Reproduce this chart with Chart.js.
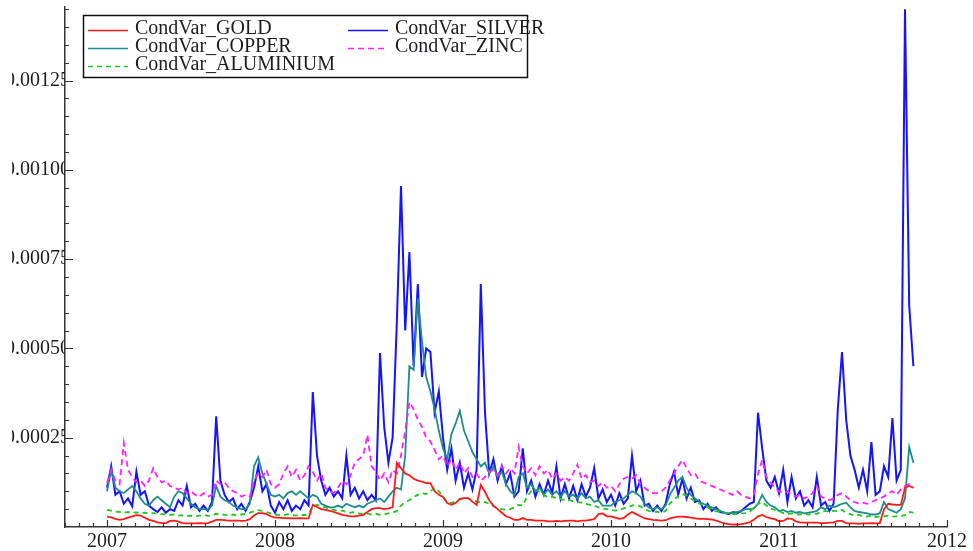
<!DOCTYPE html>
<html>
<head>
<meta charset="utf-8">
<script src="https://cdn.jsdelivr.net/npm/chart.js@4.4.0/dist/chart.umd.min.js"></script>
<style>
html,body{margin:0;padding:0;background:#fff;}
canvas{display:block;}
</style>
</head>
<body>
<canvas id="c" width="973" height="551"></canvas>
<script>
// values are in units of 1e-5 (conditional variance)
const UNIT = 1e-5;
const START_YEAR = 2007;
const STEPS_PER_YEAR = 40;

const seriesLabels = ["CondVar_GOLD", "CondVar_SILVER", "CondVar_COPPER", "CondVar_ZINC", "CondVar_ALUMINIUM"];

const gold = [
2.9,2.7,2.3,2.0,2.2,2.6,3.0,3.3,3.2,2.6,
2.0,1.7,1.3,1.1,1.1,1.7,1.8,1.5,1.1,1.0,
1.0,1.0,1.1,1.0,1.1,1.5,2.0,2.0,1.9,1.8,
1.8,1.8,1.7,1.8,2.2,3.2,3.9,3.9,3.6,3.0,
2.6,2.6,2.5,2.5,2.4,2.4,2.5,2.4,2.4,6.2,
5.6,5.0,4.8,4.5,4.2,3.8,3.4,3.2,3.0,3.0,
3.2,3.4,4.2,5.0,5.3,5.3,5.0,5.2,5.5,18.0,
16.5,15.0,14.5,13.5,13.0,12.7,12.3,12.3,10.0,9.0,
8.4,6.7,6.2,6.7,7.8,8.1,8.1,7.1,6.2,11.8,
9.8,7.5,6.0,5.0,4.0,3.0,2.6,2.0,2.0,2.5,
2.0,2.0,1.8,1.8,1.8,1.6,1.6,1.7,1.6,1.7,
1.8,1.8,1.6,1.8,1.8,2.0,2.2,3.6,3.8,3.0,
3.0,2.6,2.3,2.5,3.5,4.2,3.6,3.0,2.4,2.2,
2.0,1.9,1.8,1.9,2.4,2.7,2.9,2.9,2.8,2.6,
2.4,2.3,2.3,2.2,2.1,1.8,1.4,1.0,0.8,0.7,
0.7,0.8,1.0,1.3,2.0,3.0,3.4,2.8,2.4,2.2,
1.6,1.7,2.4,2.3,1.6,1.3,1.2,1.2,1.2,1.2,
1.1,1.1,1.2,1.3,1.7,1.7,1.1,1.0,1.0,0.9,
1.0,1.0,1.1,1.0,1.1,5.0,6.5,6.3,6.2,6.2,
11.0,11.5,11.0
];

const silver = [
11,17,9,10,6.5,8,5.8,15.5,9,10,
6,5,4.2,5.5,4,5,4.5,7.5,6,11.5,
5.5,6.5,4.5,6,4.5,7,31,13,9,7,
8,5,6.5,4.5,7,11,17,10,12,6,
4,7,5,7.5,4.5,6,5,7.5,6,37.8,
20,13,9,11,8.5,10,8,20,9,11,
8,10,7.5,9,7.5,48.7,28,18,25,57,
95.5,55,77,45,68,42,50,49,32,38,
25,16,22,13,18,11,15,10.5,16,68,
32,15,19,13,17,12,15,8.5,10,22,
10,13,8.5,12,9,13,9.5,17,8,12,
8,11.5,7.5,12,8.5,11,16.5,8,10.5,7,
9,6,9.5,6.5,8,20,10,13,6,6.5,
4.5,6,4.5,6.5,12,15.5,9,13.5,8,11,
7,7.5,5,6.5,4.5,5.5,4.2,4.0,3.6,4.2,
3.8,4.5,5.5,6.5,7,32,22,13,11,14,
9.5,16,7,14,8,10,6,7.5,5.5,14,
6,7,4.5,6.5,33,49,30,20,16,11,
16,10,23.8,9,10,17,14,30.5,13,16,
145,62,45
];

const copper = [
10,16,11,10,9.5,10.5,11.5,10,8,6.5,
6,7.5,8.5,7.5,6.5,5.5,8.5,10,9.5,8,
6.5,5.5,5,5,4.8,6,11.5,8.5,7.5,7,
6,5.5,5,5,6.5,17,19.5,15,12,9,
8.5,9,8,9.5,10,9,10,9,8,9,
8.5,6.5,6,5.5,5.5,6,5.5,6.5,6,5.5,
6,5.5,6.5,7,7.5,8,7,8.5,10,11,
10.5,20,45,44,64,52,42,38,33,27,
22,19,26,29,32.5,27,24,21,19,17,
18,15,17,14,15.5,12,10,9,14,15,
11,12,10,11,9,10.5,9,10,8.5,10,
8.5,9,8,9.5,8,8.5,7,7.5,6,6,
6,7,7.5,8,9,10,9.5,8.5,6.5,5.5,
5,5.5,5,6,9,11,13,14,11,9,
8,7,6.5,6,5.5,5,4.5,4,3.8,4,
4.2,4.5,5,5,5.2,6.5,9,7,6,5.5,
4.5,4.8,4.2,4.5,4,4.2,3.8,4,4.2,4.5,
5.5,5,6,5.5,6,6.5,6.8,5.5,4.5,4.2,
4,3.8,3.5,3.5,3.8,7,5,4.5,4,5,
8,22.4,18
];

const zinc = [
12.3,16,13,12,23.5,16,14,12.5,13,11.5,
13,16.5,14,12.5,13,11.5,11,10.5,11,9.5,
10,9,8.5,9.5,8.5,9,13,12,12.5,11,
10,9.5,8.5,9,8.5,13,15,14,16,12,
11,12,15,17,14,16,13,14.5,17,15.5,
13,15,11,10,9.5,11,13,12,14.5,18,
19,20,25.8,17,15.5,13,15,12.5,16,15,
20,27,35,33,30,28,25,24,21.5,19,
20,17,19,16,18,15,16.5,14,15,13,
14,15.5,16,14.5,17,15,16.5,15,22.4,17,
15,16.5,14.5,17,15,16,13.5,15,13,14,
13,15,17.5,13.5,14.5,12.5,13,11.5,12.5,11,
11.5,10,12,13.5,14,13.5,14.5,12,11,10,
9.5,9.5,10,11,13,15,17,18.8,16.5,14.5,
15,13,12.5,12,11.5,11,10.5,10,9.5,9,
10,9,8.5,8,9,15,18.8,14,12.5,11,
10,9.5,10,9,8.5,9,8,8.5,9.5,11.5,
8.5,8,7.5,8,9,9.5,8.5,7.5,7,6.5,
6.8,6.5,7,7.5,8,8.5,9.5,10,9,10.5,
11.5,12,11
];

const aluminium = [
4.8,4.6,4.3,4.2,4.0,4.2,4.0,4.1,3.9,4.0,
3.8,3.9,3.7,3.6,3.5,3.4,3.5,3.2,3.3,3.1,
3.2,3.0,3.2,3.4,3.1,3.3,3.7,3.6,3.4,3.3,
3.5,3.3,3.5,3.7,4.0,4.4,4.7,4.5,4.2,3.8,
3.5,3.4,3.3,3.6,3.4,3.2,3.5,3.3,3.6,5.8,
6.2,5.8,5.5,5.0,4.8,4.5,4.6,4.2,4.0,4.2,
3.8,3.6,3.8,3.5,3.7,3.4,3.6,3.8,4.0,4.5,
6.0,7.0,7.5,8.4,9.0,9.5,9.2,10.0,11.0,10.0,
8.5,7.0,6.7,7.2,7.8,8.2,8.0,7.6,7.2,6.8,
7.0,6.5,5.8,5.3,5.0,4.8,5.0,5.5,6.2,6.0,
8.5,10.0,10.5,9.8,9.0,8.3,8.5,8.0,7.8,7.5,
7.6,7.2,7.0,6.8,6.5,6.2,6.0,5.5,5.2,5.0,
4.8,4.6,4.8,5.2,5.6,6.0,6.2,5.8,5.0,4.5,
4.2,4.3,4.0,4.5,6.5,7.8,8.6,9.2,8.8,8.0,
7.2,6.6,6.0,5.5,4.8,4.4,4.2,4.0,3.8,3.6,
3.7,3.8,3.9,4.2,5.5,6.5,7.0,6.0,5.2,4.8,
4.5,3.9,3.7,3.8,3.6,3.5,3.7,3.5,3.6,3.7,
4.2,4.5,4.2,4.6,4.4,4.8,4.0,3.6,3.2,3.4,
3.0,2.9,3.2,2.8,2.9,3.0,3.2,2.9,3.0,3.1,
3.3,4.2,4.0
];

// sampling dates (fractional years), one per value
const dates = gold.map((_, i) => START_YEAR + i / STEPS_PER_YEAR);

const yTickValues = [0.00025, 0.0005, 0.00075, 0.001, 0.00125];
const xTickYears = [2007, 2008, 2009, 2010, 2011, 2012];

const styles = [
  {color: "#ff1a1a", dash: [], width: 1.8, order: 1},
  {color: "#1414ff", dash: [], width: 2.0, order: 5},
  {color: "#1f8c8c", dash: [], width: 1.8, order: 4},
  {color: "#ff22ff", dash: [6, 4], width: 1.8, order: 3},
  {color: "#1ec81e", dash: [5, 4], width: 1.8, order: 2}
];
const seriesValues = [gold, silver, copper, zinc, aluminium];

const datasets = seriesValues.map((vals, k) => ({
  label: seriesLabels[k],
  data: vals.map((v, i) => ({x: dates[i], y: v * UNIT})),
  borderColor: styles[k].color,
  borderDash: styles[k].dash,
  borderWidth: styles[k].width,
  order: styles[k].order,
  pointRadius: 0,
  tension: 0,
  fill: false
}));

const FONT = "'Liberation Serif', 'Times New Roman', serif";

const tickPlugin = {
  id: 'innerTicks',
  afterDraw(chart) {
    const ctx = chart.ctx;
    const xs = chart.scales.x, ys = chart.scales.y;
    const area = chart.chartArea;
    ctx.save();
    ctx.strokeStyle = '#333';
    ctx.lineWidth = 1.2;
    ctx.beginPath();
    // y ticks: minor every 0.00005, major every 0.00025
    for (let k = 1; k <= 29; k++) {
      const v = k * 0.00005;
      const y = Math.round(ys.getPixelForValue(v)) + 0.5;
      const len = (k % 5 === 0) ? 8 : 4;
      ctx.moveTo(area.left, y);
      ctx.lineTo(area.left + len, y);
    }
    // x ticks: monthly minor, yearly major
    for (let m = 0; m <= 63; m++) {
      const v = 2006.75 + m / 12;
      const x = Math.round(xs.getPixelForValue(v)) + 0.5;
      const len = ((m - 3) % 12 === 0) ? 7 : 4;
      ctx.moveTo(x, area.bottom);
      ctx.lineTo(x, area.bottom - len);
    }
    ctx.stroke();

    // legend box
    const bx = 83, by = 15, bw = 444, bh = 62;
    ctx.fillStyle = '#fff';
    ctx.fillRect(bx, by, bw, bh);
    ctx.strokeStyle = '#111';
    ctx.lineWidth = 1.5;
    ctx.strokeRect(bx + 0.5, by + 0.5, bw, bh);
    const slots = {
      "CondVar_GOLD": [88, 30], "CondVar_COPPER": [88, 48], "CondVar_ALUMINIUM": [88, 66],
      "CondVar_SILVER": [348, 30], "CondVar_ZINC": [348, 48]
    };
    ctx.font = "20px " + FONT;
    ctx.textBaseline = 'middle';
    chart.data.datasets.forEach(ds => {
      const p = slots[ds.label];
      ctx.strokeStyle = ds.borderColor;
      ctx.lineWidth = 1.6;
      ctx.setLineDash(ds.borderDash || []);
      ctx.beginPath();
      ctx.moveTo(p[0], p[1] + 0.5);
      ctx.lineTo(p[0] + 40, p[1] + 0.5);
      ctx.stroke();
      ctx.setLineDash([]);
      ctx.fillStyle = '#1c1c24';
      ctx.fillText(ds.label, p[0] + 47, p[1] - 1);
    });
    // left edge of the picture is cut off in the original
    ctx.fillStyle = '#fff';
    ctx.fillRect(0, 0, 12, chart.height);
    ctx.restore();
  }
};

const bgPlugin = {
  id: 'bg',
  beforeDraw(chart) {
    const ctx = chart.ctx;
    ctx.save();
    ctx.fillStyle = '#fff';
    ctx.fillRect(0, 0, chart.width, chart.height);
    ctx.restore();
  }
};

new Chart(document.getElementById('c'), {
  type: 'line',
  data: {datasets},
  options: {
    responsive: false,
    animation: false,
    devicePixelRatio: 1,
    layout: {padding: {left: 0, right: 26, top: 7, bottom: 0}},
    plugins: {legend: {display: false}, tooltip: {enabled: false}},
    elements: {point: {radius: 0}, line: {tension: 0}},
    scales: {
      x: {
        type: 'linear',
        min: 2006.75,
        max: 2012,
        grid: {display: false, drawTicks: false},
        border: {display: true, color: '#333', width: 1.5},
        afterBuildTicks: s => { s.ticks = xTickYears.map(v => ({value: v})); },
        ticks: {
          autoSkip: false,
          maxRotation: 0,
          padding: 3,
          color: '#1c1c24',
          font: {family: FONT, size: 20},
          callback: v => String(Math.round(v))
        },
        afterFit: s => { s.height = 24; }
      },
      y: {
        type: 'linear',
        min: 0,
        max: 0.001456,
        grid: {display: false, drawTicks: false},
        border: {display: true, color: '#333', width: 1.5},
        afterBuildTicks: s => { s.ticks = yTickValues.map(v => ({value: v})); },
        ticks: {
          autoSkip: false,
          padding: -5,
          color: '#1c1c24',
          font: {family: FONT, size: 20},
          callback: v => v.toFixed(5)
        },
        afterFit: s => { s.width = 65; }
      }
    }
  },
  plugins: [bgPlugin, tickPlugin]
});
</script>
</body>
</html>
